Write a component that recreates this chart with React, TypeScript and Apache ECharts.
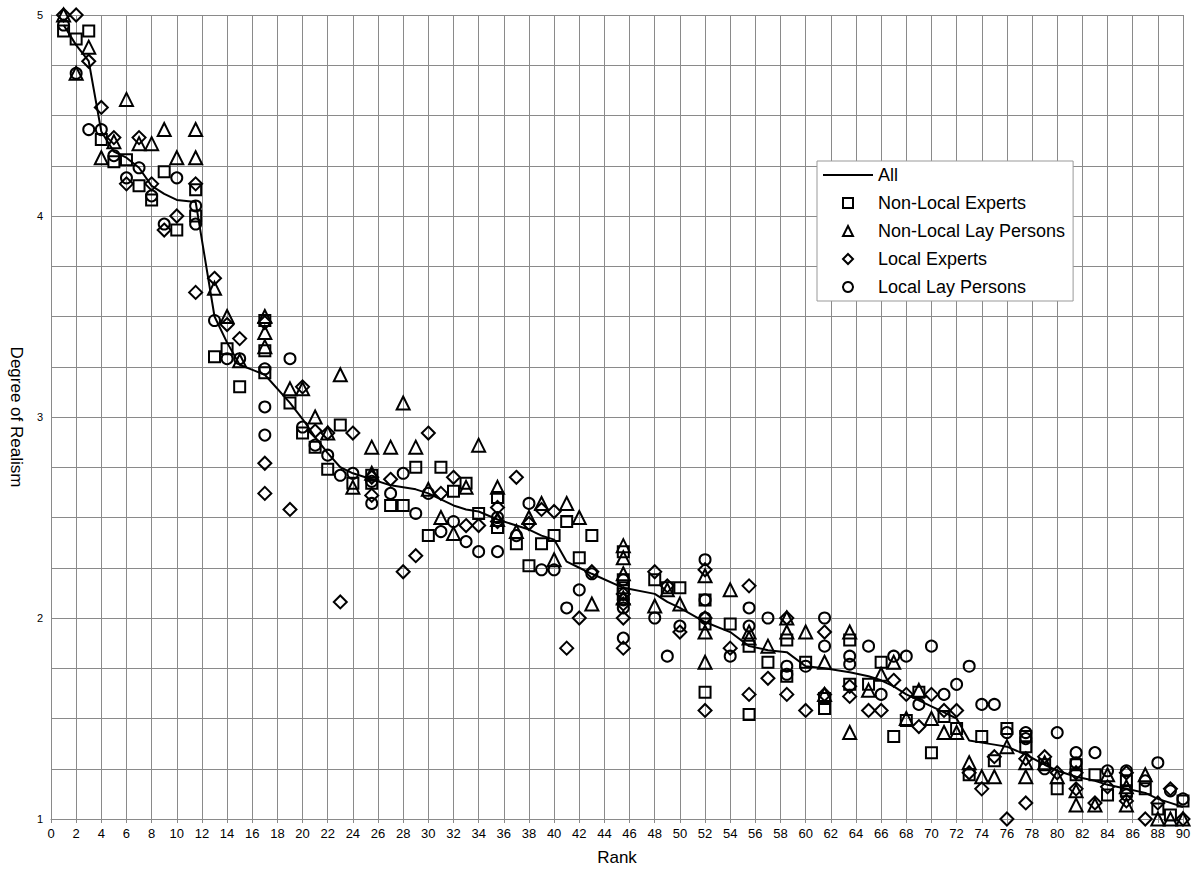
import React, { useEffect, useRef } from "react";
import * as echarts from "echarts";

type P = [number, number];

// Mean of all groups per rank
const allMean: P[] = [
  [1, 4.95], [2, 4.85], [3, 4.77], [4, 4.42], [5, 4.32], [6, 4.29], [7, 4.24], [8, 4.15], [9, 4.11], [10, 4.08],
  [11.5, 4.07], [13, 3.5], [14, 3.37], [15, 3.26], [17, 3.21], [19, 3.07], [20, 2.99], [21, 2.9], [22, 2.82],
  [23, 2.75], [24, 2.72], [25.5, 2.69], [27, 2.66], [28, 2.65], [29, 2.64], [30, 2.62], [31, 2.59], [32, 2.56],
  [33, 2.54], [34, 2.53], [35.5, 2.49], [37, 2.46], [38, 2.44], [39, 2.41], [40, 2.39], [41, 2.28], [42, 2.25],
  [43, 2.22], [45.5, 2.15], [48, 2.12], [49, 2.08], [50, 2.05], [52, 1.98], [54, 1.93], [55.5, 1.86], [57, 1.84],
  [58.5, 1.83], [60, 1.76], [61.5, 1.75], [63.5, 1.73], [65, 1.71], [66, 1.69], [67, 1.66], [68, 1.62], [69, 1.59],
  [70, 1.56], [71, 1.53], [72, 1.5], [73, 1.39], [74, 1.38], [75, 1.37], [76, 1.36], [77.5, 1.32], [79, 1.27],
  [80, 1.24], [81.5, 1.21], [83, 1.19], [84, 1.17], [85.5, 1.15], [87, 1.13], [88, 1.1], [89, 1.08], [90, 1.06],
];

const nonLocalExperts: P[] = [
  [1, 4.92], [2, 4.88], [3, 4.92], [4, 4.38], [5, 4.27], [6, 4.28], [7, 4.15], [8, 4.08], [9, 4.22], [10, 3.93],
  [11.5, 4.13], [11.5, 4.0], [13, 3.3], [14, 3.34], [15, 3.15], [17, 3.48], [17, 3.33], [17, 3.22], [19, 3.07],
  [20, 2.92], [21, 2.85], [22, 2.74], [23, 2.96], [24, 2.67], [25.5, 2.71], [25.5, 2.67], [27, 2.56], [28, 2.56],
  [29, 2.75], [30, 2.41], [31, 2.75], [32, 2.63], [33, 2.67], [34, 2.52], [35.5, 2.6], [35.5, 2.45], [37, 2.37],
  [38, 2.26], [39, 2.37], [40, 2.41], [41, 2.48], [42, 2.3], [43, 2.41], [45.5, 2.33], [45.5, 2.19], [45.5, 2.15],
  [45.5, 2.12], [48, 2.19], [49, 2.15], [50, 2.15], [52, 2.09], [52, 1.97], [52, 1.63], [54, 1.97], [55.5, 1.86],
  [55.5, 1.52], [57, 1.78], [58.5, 1.89], [58.5, 1.71], [60, 1.78], [61.5, 1.6], [61.5, 1.55], [63.5, 1.89],
  [63.5, 1.67], [65, 1.67], [66, 1.78], [67, 1.41], [68, 1.49], [69, 1.63], [70, 1.33], [71, 1.51], [72, 1.45],
  [73, 1.22], [74, 1.41], [75, 1.29], [76, 1.45], [77.5, 1.41], [77.5, 1.36], [79, 1.27], [80, 1.15], [81.5, 1.27],
  [81.5, 1.22], [83, 1.22], [84, 1.12], [85.5, 1.19], [85.5, 1.14], [87, 1.15], [88, 1.05], [89, 1.02], [90, 1.09],
];

const nonLocalLay: P[] = [
  [1, 5.0], [2, 4.71], [3, 4.84], [4, 4.29], [5, 4.37], [6, 4.58], [7, 4.36], [8, 4.36], [9, 4.43], [10, 4.29],
  [11.5, 4.43], [11.5, 4.29], [13, 3.64], [14, 3.5], [15, 3.28], [17, 3.5], [17, 3.42], [17, 3.35], [19, 3.14],
  [20, 3.14], [21, 3.0], [22, 2.92], [23, 3.21], [24, 2.65], [25.5, 2.85], [25.5, 2.72], [27, 2.85], [28, 3.07],
  [29, 2.85], [30, 2.64], [31, 2.5], [32, 2.42], [33, 2.65], [34, 2.86], [35.5, 2.65], [35.5, 2.49], [37, 2.43],
  [38, 2.5], [39, 2.57], [40, 2.29], [41, 2.57], [42, 2.5], [43, 2.07], [45.5, 2.36], [45.5, 2.3], [45.5, 2.22],
  [45.5, 2.1], [48, 2.06], [49, 2.14], [50, 2.07], [52, 2.21], [52, 1.93], [52, 1.78], [54, 2.14], [55.5, 1.93],
  [55.5, 1.9], [57, 1.86], [58.5, 2.0], [58.5, 1.93], [60, 1.93], [61.5, 1.78], [61.5, 1.62], [63.5, 1.93],
  [63.5, 1.43], [65, 1.64], [66, 1.72], [67, 1.78], [68, 1.5], [69, 1.64], [70, 1.5], [71, 1.43], [72, 1.43],
  [73, 1.28], [74, 1.21], [75, 1.21], [76, 1.36], [77.5, 1.28], [77.5, 1.21], [79, 1.28], [80, 1.21], [81.5, 1.14],
  [81.5, 1.07], [83, 1.07], [84, 1.22], [85.5, 1.16], [85.5, 1.07], [87, 1.22], [88, 1.0], [89, 1.0], [90, 1.0],
];

const localExperts: P[] = [
  [1, 5.0], [2, 5.0], [3, 4.77], [4, 4.54], [5, 4.39], [6, 4.16], [7, 4.39], [8, 4.16], [9, 3.93], [10, 4.0],
  [11.5, 4.16], [11.5, 3.62], [13, 3.69], [14, 3.46], [15, 3.39], [17, 3.47], [17, 2.77], [17, 2.62], [19, 2.54],
  [20, 3.15], [21, 2.93], [22, 2.92], [23, 2.08], [24, 2.92], [25.5, 2.7], [25.5, 2.61], [27, 2.69], [28, 2.23],
  [29, 2.31], [30, 2.92], [31, 2.62], [32, 2.7], [33, 2.46], [34, 2.46], [35.5, 2.55], [35.5, 2.48], [37, 2.7],
  [38, 2.47], [39, 2.54], [40, 2.53], [41, 1.85], [42, 2.0], [43, 2.23], [45.5, 2.12], [45.5, 2.07], [45.5, 2.0],
  [45.5, 1.85], [48, 2.23], [49, 2.16], [50, 1.93], [52, 2.24], [52, 2.0], [52, 1.54], [54, 1.85], [55.5, 2.16],
  [55.5, 1.62], [57, 1.7], [58.5, 2.0], [58.5, 1.62], [60, 1.54], [61.5, 1.93], [61.5, 1.62], [63.5, 1.66],
  [63.5, 1.61], [65, 1.54], [66, 1.54], [67, 1.69], [68, 1.62], [69, 1.46], [70, 1.62], [71, 1.54], [72, 1.54],
  [73, 1.23], [74, 1.15], [75, 1.31], [76, 1.0], [77.5, 1.3], [77.5, 1.08], [79, 1.31], [80, 1.23], [81.5, 1.23],
  [81.5, 1.15], [83, 1.08], [84, 1.16], [85.5, 1.23], [85.5, 1.09], [87, 1.0], [88, 1.08], [89, 1.15], [90, 1.0],
];

const localLay: P[] = [
  [1, 4.95], [2, 4.71], [3, 4.43], [4, 4.43], [5, 4.3], [6, 4.19], [7, 4.24], [8, 4.1], [9, 3.96], [10, 4.19],
  [11.5, 4.05], [11.5, 3.96], [13, 3.48], [14, 3.29], [15, 3.29], [17, 3.24], [17, 3.05], [17, 2.91], [19, 3.29],
  [20, 2.95], [21, 2.86], [22, 2.81], [23, 2.71], [24, 2.72], [25.5, 2.68], [25.5, 2.57], [27, 2.62], [28, 2.72],
  [29, 2.52], [30, 2.62], [31, 2.43], [32, 2.48], [33, 2.38], [34, 2.33], [35.5, 2.5], [35.5, 2.33], [37, 2.41],
  [38, 2.57], [39, 2.24], [40, 2.24], [41, 2.05], [42, 2.14], [43, 2.22], [45.5, 2.19], [45.5, 2.09], [45.5, 2.05],
  [45.5, 1.9], [48, 2.0], [49, 1.81], [50, 1.96], [52, 2.29], [52, 2.09], [52, 2.0], [54, 1.81], [55.5, 2.05],
  [55.5, 1.96], [57, 2.0], [58.5, 1.76], [58.5, 1.72], [60, 1.76], [61.5, 2.0], [61.5, 1.86], [63.5, 1.81],
  [63.5, 1.77], [65, 1.86], [66, 1.62], [67, 1.81], [68, 1.81], [69, 1.57], [70, 1.86], [71, 1.62], [72, 1.67],
  [73, 1.76], [74, 1.57], [75, 1.57], [76, 1.43], [77.5, 1.43], [77.5, 1.4], [79, 1.25], [80, 1.43], [81.5, 1.33],
  [81.5, 1.28], [83, 1.33], [84, 1.24], [85.5, 1.24], [85.5, 1.12], [87, 1.19], [88, 1.28], [89, 1.14], [90, 1.1],
];

const seriesNames = ["All", "Non-Local Experts", "Non-Local Lay Persons", "Local Experts", "Local Lay Persons"];

const FONT = "'Liberation Sans', Arial, sans-serif";

const legendIcons: Record<string, string | undefined> = {
  "Non-Local Experts": "path://M0,0H10V10H0Z",
  "Non-Local Lay Persons": "path://M5,0L10,10H0Z",
  "Local Experts": "path://M5,0L10,5L5,10L0,5Z",
  "Local Lay Persons": "path://M5,0A5,5,0,1,1,4.99,0Z",
};

export default function App() {
  const ref = useRef<HTMLDivElement>(null);
  useEffect(() => {
    document.body.style.margin = "0";
    const chart = echarts.init(ref.current!, null, { renderer: "svg" });
    const hollow = { color: "rgba(255,255,255,0)", borderColor: "#000", borderWidth: 2, opacity: 1 };
    const grid = { lineStyle: { color: "#8a8a8a", width: 1 } };
    const legendData = seriesNames.map((n) =>
      n === "All"
        ? { name: n, itemStyle: { color: "rgba(0,0,0,0)", borderWidth: 0, opacity: 0 } }
        : { name: n, icon: legendIcons[n] }
    );
    chart.setOption({
      animation: false,
      backgroundColor: "#fff",
      textStyle: { fontFamily: FONT },
      grid: { left: 49, right: 14, top: 15, bottom: 55, containLabel: false },
      legend: {
        data: legendData,
        orient: "vertical",
        left: 817,
        top: 161,
        itemWidth: 50,
        itemHeight: 10,
        itemGap: 10,
        symbolKeepAspect: true,
        padding: [5, 8, 5, 5],
        borderColor: "#999",
        borderWidth: 1,
        backgroundColor: "#fff",
        textStyle: { fontSize: 18, color: "#000", fontFamily: FONT },
        selectedMode: false,
      },
      xAxis: {
        type: "value",
        min: 0,
        max: 90,
        interval: 2,
        name: "Rank",
        nameLocation: "middle",
        nameGap: 30,
        nameTextStyle: { fontSize: 17, color: "#000", fontFamily: FONT },
        axisLine: { show: true, lineStyle: { color: "#8a8a8a" } },
        axisTick: { show: true, length: 4, lineStyle: { color: "#8a8a8a" } },
        axisLabel: { fontSize: 13, color: "#000", margin: 8, fontFamily: FONT },
        splitLine: { show: true, ...grid },
      },
      yAxis: {
        type: "value",
        min: 1,
        max: 5,
        interval: 0.25,
        name: "Degree of Realism",
        nameLocation: "middle",
        nameRotate: -90,
        nameGap: 26,
        nameTextStyle: { fontSize: 17, color: "#000", fontFamily: FONT },
        axisLine: { show: true, lineStyle: { color: "#8a8a8a" } },
        axisTick: { show: false },
        axisLabel: {
          fontSize: 11,
          color: "#000",
          margin: 8,
          fontFamily: FONT,
          formatter: (v: number) => (Number.isInteger(v) ? String(v) : ""),
        },
        splitLine: { show: true, ...grid },
      },
      series: [
        {
          name: "Non-Local Experts",
          type: "scatter",
          symbol: "rect",
          symbolSize: 11,
          itemStyle: hollow,
          data: nonLocalExperts,
          z: 2,
        },
        {
          name: "Non-Local Lay Persons",
          type: "scatter",
          symbol: "triangle",
          symbolSize: 13,
          itemStyle: hollow,
          data: nonLocalLay,
          z: 2,
        },
        {
          name: "Local Experts",
          type: "scatter",
          symbol: "diamond",
          symbolSize: 13,
          itemStyle: hollow,
          data: localExperts,
          z: 2,
        },
        {
          name: "Local Lay Persons",
          type: "scatter",
          symbol: "circle",
          symbolSize: 11,
          itemStyle: hollow,
          data: localLay,
          z: 2,
        },
        {
          name: "All",
          type: "line",
          symbol: "none",
          showSymbol: false,
          lineStyle: { color: "#000", width: 2 },
          itemStyle: { color: "#000" },
          data: allMean,
          z: 3,
        },
      ],
    });
    return () => chart.dispose();
  }, []);
  return <div ref={ref} style={{ position: "absolute", left: 0, top: 0, width: 1197, height: 874 }} />;
}
